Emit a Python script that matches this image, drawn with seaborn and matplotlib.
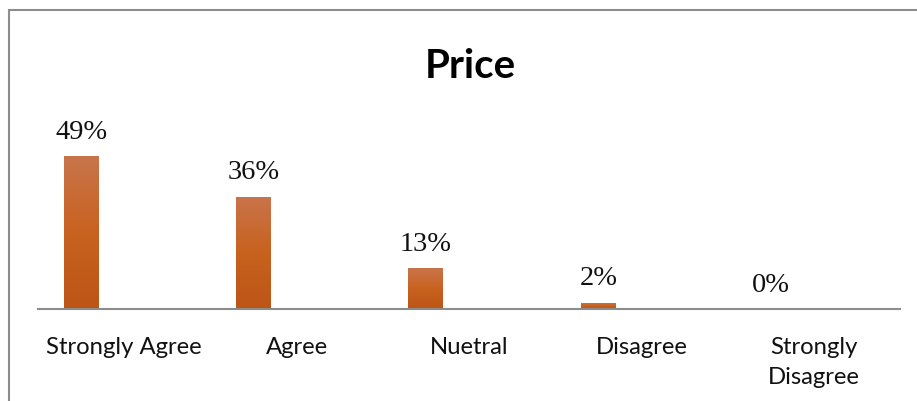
import numpy as np
import pandas as pd
import matplotlib
matplotlib.use("Agg")
import matplotlib.pyplot as plt
import seaborn as sns
from matplotlib.colors import LinearSegmentedColormap
from matplotlib.lines import Line2D

categories = ["Strongly Agree", "Agree", "Nuetral", "Disagree", "Strongly\nDisagree"]
values = [49, 36, 13, 2, 0]
value_labels = ["49%", "36%", "13%", "2%", "0%"]
title = "Price"

sns.set_theme(style="white")
plt.rcParams["font.family"] = ["Lato", "DejaVu Sans"]

W, H = 917, 401
fig = plt.figure(figsize=(W / 100, H / 100), dpi=100)
fig.patch.set_facecolor("white")

# axes placement (pixels)
x0, x1 = 38, 900
y_base, y_top = 309, 100
ax = fig.add_axes([x0 / W, 1 - y_base / H, (x1 - x0) / W, (y_base - y_top) / H])
px_per_unit = 3.12

df = pd.DataFrame({"pos": np.arange(len(categories)) - 0.25, "value": values})
sns.barplot(data=df, x="pos", y="value", native_scale=True, width=0.203,
            color="#C45F20", saturation=1, ax=ax, zorder=3)

# gradient fill for bars
cmap = LinearSegmentedColormap.from_list("bar", ["#BC5516", "#C8621F", "#C9744B"])
for p in list(ax.patches):
    bx, by, bw, bh = p.get_x(), p.get_y(), p.get_width(), p.get_height()
    if bh <= 0:
        continue
    grad = np.linspace(0, 1, 100).reshape(-1, 1)
    im = ax.imshow(grad, cmap=cmap, origin="lower", aspect="auto",
                   extent=[bx, bx + bw, by, by + bh], zorder=3.5)
    im.set_clip_path(p)
    sh = plt.Rectangle((bx + 0.006, by), bw, bh, facecolor="#999999", alpha=0.35,
                       edgecolor="none", zorder=2.9)
    ax.add_patch(sh)
ax.set_xlim(-0.5, len(categories) - 0.5)
ax.set_ylim(0, (y_base - y_top) / px_per_unit)

# value labels
bars = [c for c in ax.containers][0]
for p, lab in zip(bars, value_labels):
    cx = p.get_x() + p.get_width() / 2
    ax.annotate(lab, (cx, p.get_height()), xytext=(0, 12.5), textcoords="offset points",
                ha="center", va="baseline", fontsize=20.5, family="Liberation Serif",
                color="#111111", clip_on=False, annotation_clip=False)

ax.set_xticks(np.arange(len(categories)))
ax.set_xticklabels(categories, fontsize=17.2, color="#111111")
ax.tick_params(axis="x", length=0, pad=20)
for lbl in ax.get_xticklabels():
    lbl.set_verticalalignment("top")
    lbl.set_linespacing(1.55)
ax.set_yticks([])
ax.set_xlabel("")
ax.set_ylabel("")
for s in ["top", "right", "left"]:
    ax.spines[s].set_visible(False)
ax.spines["bottom"].set_color("#8C8C8C")
ax.spines["bottom"].set_linewidth(1.5)
ax.spines["bottom"].set_zorder(5)
ax.patch.set_alpha(0)

fig.text(470 / W, 1 - 78 / H, title, ha="center", va="baseline",
         fontsize=29, fontweight="bold", color="#000000")

# chart border (clipped frame)
fig.add_artist(Line2D([8.5 / W, 1.0], [1 - 10 / H, 1 - 10 / H], color="#8C8C8C", lw=1.5))
fig.add_artist(Line2D([8.5 / W, 8.5 / W], [1 - 10 / H, 0.0], color="#8C8C8C", lw=1.5))

fig.savefig("out.png", dpi=100, facecolor="white")
